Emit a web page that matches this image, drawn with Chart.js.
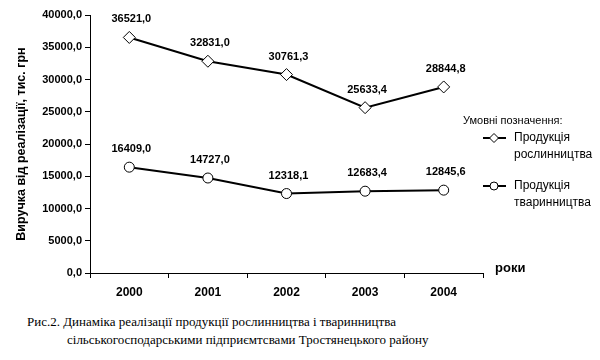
<!DOCTYPE html>
<html>
<head>
<meta charset="utf-8">
<script src="https://cdn.jsdelivr.net/npm/chart.js@4"></script>
<style>
  body { margin: 0; background: #fff; width: 600px; height: 360px; position: relative; overflow: hidden; }
  #wrap { position: absolute; left: 0; top: 0; width: 600px; height: 310px; }
  .cap { position: absolute; font: 13px "Liberation Serif", "Times New Roman", serif; color: #000; white-space: nowrap; }
</style>
</head>
<body>
<div id="wrap"><canvas id="chart"></canvas></div>
<div class="cap" style="left:27px; top:314px;">Рис.2. Динаміка реалізації продукції рослинництва і тваринництва</div>
<div class="cap" style="left:67px; top:332px;">сільськогосподарськими підприємтсвами Тростянецького району</div>
<script>
// values from the figure
const years = ["2000", "2001", "2002", "2003", "2004"];
const cropValues = [36521.0, 32831.0, 30761.3, 25633.4, 28844.8];
const livestockValues = [16409.0, 14727.0, 12318.1, 12683.4, 12845.6];
const seriesNames = [["Продукція", "рослинництва"], ["Продукція", "тваринництва"]];

const font = '"Liberation Sans", Arial, sans-serif';
const fmt = (v) => v.toFixed(1).replace(".", ",");

// bold value labels above each point
const valueLabels = {
  id: "valueLabels",
  afterDatasetsDraw(chart) {
    const c = chart.ctx;
    c.save();
    c.font = "bold 11px " + font;
    c.fillStyle = "#000";
    c.textAlign = "center";
    c.textBaseline = "middle";
    chart.data.datasets.forEach((ds, i) => {
      chart.getDatasetMeta(i).data.forEach((pt, j) => {
        c.fillText(fmt(ds.data[j]), pt.x + 2, pt.y - 18);
      });
    });
    c.restore();
  },
};

// legend block on the right + "роки" label
const sideLegend = {
  id: "sideLegend",
  afterDraw(chart) {
    const c = chart.ctx;
    c.save();
    c.fillStyle = "#000";
    c.textBaseline = "middle";
    c.font = "11px " + font;
    c.fillText("Умовні позначення:", 463, 121);

    const rows = [138, 186];
    chart.data.datasets.forEach((ds, i) => {
      const y = rows[i];
      c.strokeStyle = "#000";
      c.lineWidth = 2;
      c.beginPath();
      c.moveTo(483, y);
      c.lineTo(506, y);
      c.stroke();
      c.fillStyle = "#fff";
      c.lineWidth = 1;
      c.beginPath();
      if (ds.pointStyle === "rectRot") {
        c.moveTo(494, y - 4.5);
        c.lineTo(498.5, y);
        c.lineTo(494, y + 4.5);
        c.lineTo(489.5, y);
        c.closePath();
      } else {
        c.arc(494, y, 4, 0, Math.PI * 2);
      }
      c.fill();
      c.stroke();
      c.fillStyle = "#000";
      c.font = "12px " + font;
      c.fillText(seriesNames[i][0], 514, y);
      c.fillText(seriesNames[i][1], 514, y + 17);
    });

    c.font = "bold 13px " + font;
    c.fillText("роки", 495, 268);
    c.restore();
  },
};

const ctx = document.getElementById("chart").getContext("2d");
const chart = new Chart(ctx, {
  type: "line",
  data: {
    labels: years,
    datasets: [
      {
        label: seriesNames[0].join(" "),
        data: cropValues,
        borderColor: "#000",
        borderWidth: 2,
        pointStyle: "rectRot",
        pointRadius: 6,
        pointBackgroundColor: "#fff",
        pointBorderColor: "#000",
        pointBorderWidth: 1,
        tension: 0,
      },
      {
        label: seriesNames[1].join(" "),
        data: livestockValues,
        borderColor: "#000",
        borderWidth: 2,
        pointStyle: "circle",
        pointRadius: 5,
        pointBackgroundColor: "#fff",
        pointBorderColor: "#000",
        pointBorderWidth: 1,
        tension: 0,
      },
    ],
  },
  options: {
    responsive: true,
    maintainAspectRatio: false,
    animation: false,
    layout: { padding: { left: 0, top: 15, right: 117, bottom: 0 } },
    plugins: {
      legend: { display: false },
      tooltip: { enabled: false },
    },
    scales: {
      x: {
        offset: true,
        grid: { drawOnChartArea: false, offset: true, tickLength: 5, color: "#000" },
        border: { color: "#000", width: 1 },
        ticks: { color: "#000", font: { family: font, size: 12, weight: "bold" }, padding: 7 },
        afterFit(scale) { scale.height = 37; },
      },
      y: {
        min: 0,
        max: 40000,
        grid: { drawOnChartArea: false, tickLength: 5, color: "#000" },
        border: { color: "#000", width: 1 },
        ticks: {
          stepSize: 5000,
          color: "#000",
          padding: 3,
          font: { family: font, size: 11, weight: "bold" },
          callback: (v) => fmt(v),
        },
        title: {
          display: true,
          text: "Виручка від реалізації, тис. грн",
          color: "#000",
          font: { family: font, size: 12.5, weight: "bold" },
          padding: { top: 14, bottom: 6 },
        },
        afterFit(scale) { scale.width = 90; },
      },
    },
  },
  plugins: [valueLabels, sideLegend],
});
</script>
</body>
</html>
